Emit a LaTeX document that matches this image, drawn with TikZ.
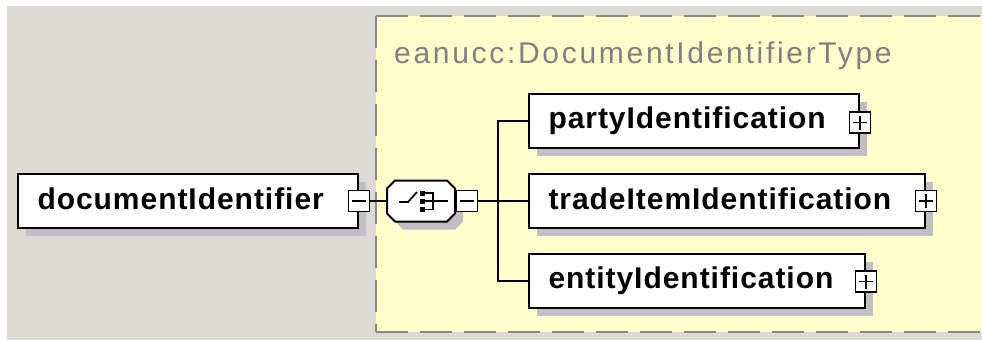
\documentclass[tikz,border=0pt]{standalone}
\usepackage{fontspec}
\setmainfont{Liberation Sans}
\newfontfamily\elemfont[LetterSpace=3.2]{Liberation Sans}
\newfontfamily\typefont[LetterSpace=9]{Liberation Sans}
\usetikzlibrary{shadows}

\definecolor{panelgrey}{RGB}{220,218,213}
\definecolor{typefill}{RGB}{255,255,204}
\definecolor{shadowgrey}{RGB}{192,190,196}
\definecolor{dashgrey}{RGB}{136,136,136}
\definecolor{typetext}{RGB}{128,128,128}

\tikzset{
  boxshadow/.style={general shadow={fill=shadowgrey, shadow xshift=8pt, shadow yshift=-8pt}},
  elem/.style={draw=black, line width=2pt, fill=white, anchor=west,
    minimum height=54pt, inner xsep=19.5pt, inner ysep=0pt,
    text height=23pt, text depth=7pt, align=left,
    font=\elemfont\bfseries\fontsize{30pt}{34pt}\selectfont, boxshadow},
  togglebox/.style={draw=black, line width=1.5pt, fill=white,
    minimum size=21pt, inner sep=0pt},
  minusbox/.style={togglebox, path picture={
    \draw[line width=1.5pt] ([xshift=-7pt]path picture bounding box.center)
      -- ([xshift=7pt]path picture bounding box.center);}},
  plusbox/.style={togglebox, path picture={
    \draw[line width=1.5pt] ([xshift=-7pt]path picture bounding box.center)
      -- ([xshift=7pt]path picture bounding box.center);
    \draw[line width=1.5pt] ([yshift=-7pt]path picture bounding box.center)
      -- ([yshift=7pt]path picture bounding box.center);}},
  anchorbox/.style={minimum width=68pt, minimum height=41pt, inner sep=0pt},
  wire/.style={draw=black, line width=2pt},
  typeborder/.style={draw=dashgrey, line width=2.5pt, dash pattern=on 32pt off 12pt},
}

\begin{document}
\begin{tikzpicture}[x=1pt, y=-1pt]
  \useasboundingbox (0,0) rectangle (982,340);
  \clip (0,0) rectangle (982,340);

  % canvas
  \fill[white] (0,0) rectangle (982,340);
  \fill[panelgrey] (7,6) rectangle (982,340);

  % complex type area
  \fill[typefill] (376,16) rectangle (995,332);
  \draw[typeborder] (376,16) -- (995,16);
  \draw[typeborder] (376,16) -- (376,332);
  \draw[typeborder] (376,332) -- (995,332);
  \node[anchor=base west, inner sep=0pt, text=typetext,
        font=\typefont\fontsize{30pt}{34pt}\selectfont] (typename) at (394,63)
        {eanucc:DocumentIdentifierType};

  % root element
  \node[elem, text width=301pt] (doc) at (17,201) {documentIdentifier};
  \node[minusbox] (doctoggle) at (doc.east) {};

  % sequence compositor: octagon with shadow and sequence symbol
  \node[anchorbox] (seq) at (421,201) {};
  \begin{scope}[shift={(seq.center)}]
    \fill[shadowgrey] (-26+8,-20.5+8) -- (26+8,-20.5+8) -- (34+8,-12.5+8) -- (34+8,12.5+8)
      -- (26+8,20.5+8) -- (-26+8,20.5+8) -- (-34+8,12.5+8) -- (-34+8,-12.5+8) -- cycle;
    \filldraw[fill=white, draw=black, line width=2pt]
      (-26,-20.5) -- (26,-20.5) -- (34,-12.5) -- (34,12.5)
      -- (26,20.5) -- (-26,20.5) -- (-34,12.5) -- (-34,-12.5) -- cycle;
    \draw[line width=1.8pt] (-22,1) -- (-13,1) -- (-4,-9);
    \fill (-1,-10.5) rectangle (4,-5.5);
    \fill (-1,-2.5) rectangle (4,2.5);
    \fill (-1,6) rectangle (4,11);
    \draw[line width=1.8pt] (4,-8) -- (12,-8) -- (12,8.5) -- (4,8.5);
    \draw[line width=1.8pt] (4,0) -- (27,0);
  \end{scope}
  \node[minusbox] (seqtoggle) at (467,201) {};

  % child elements
  \node[elem, text width=291pt] (party) at (528,120.5) {partyIdentification};
  \node[elem, text width=357pt] (trade) at (528,201) {tradeItemIdentification};
  \node[elem, text width=297pt] (entity) at (528,280.5) {entityIdentification};
  \node[plusbox] (partytoggle) at ([yshift=-2pt]party.east) {};
  \node[plusbox] (tradetoggle) at (trade.east) {};
  \node[plusbox] (entitytoggle) at ([yshift=-1pt]entity.east) {};

  % connectors
  \coordinate (trunk) at (498,201);
  \draw[wire] (doctoggle.east) -- (seq.west);
  \draw[wire] (seqtoggle.east) -- (trunk);
  \draw[wire] (party.west) -| (trunk) |- (entity.west);
  \draw[wire] (trunk) -- (trade.west);
\end{tikzpicture}
\end{document}
